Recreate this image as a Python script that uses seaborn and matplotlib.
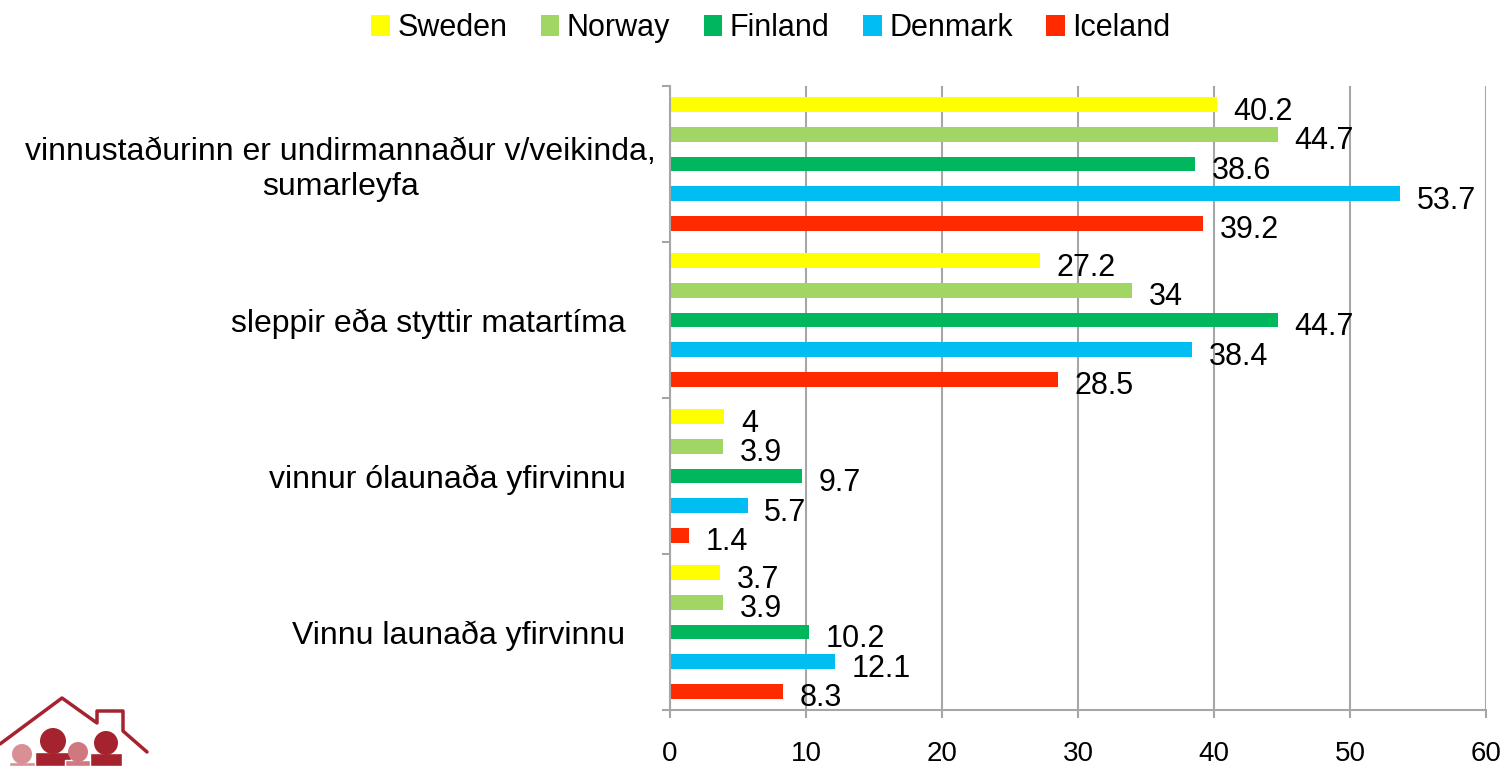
import numpy as np
import pandas as pd
import seaborn as sns
import matplotlib.pyplot as plt
from matplotlib.patches import Patch, Circle, Rectangle
from matplotlib.lines import Line2D
from matplotlib.transforms import ScaledTranslation, IdentityTransform

# data (top to bottom)
categories = [
    "vinnustaðurinn er undirmannaður v/veikinda,\nsumarleyfa",
    "sleppir eða styttir matartíma",
    "vinnur ólaunaða yfirvinnu",
    "Vinnu launaða yfirvinnu",
]
countries = ["Sweden", "Norway", "Finland", "Denmark", "Iceland"]
sweden = [40.2, 27.2, 4, 3.7]
norway = [44.7, 34, 3.9, 3.9]
finland = [38.6, 44.7, 9.7, 10.2]
denmark = [53.7, 38.4, 5.7, 12.1]
iceland = [39.2, 28.5, 1.4, 8.3]
colors = ["#FFFF00", "#A2D664", "#00B75E", "#00BEF2", "#FF2A00"]
x_ticks = [0, 10, 20, 30, 40, 50, 60]

values = [sweden, norway, finland, denmark, iceland]
rows = []
for country, vals in zip(countries, values):
    for cat, v in zip(categories, vals):
        rows.append({"category": cat, "country": country, "value": v})
df = pd.DataFrame(rows)

sns.set_style("white")
plt.rcParams["font.family"] = ["Liberation Sans", "DejaVu Sans"]
plt.rcParams["text.color"] = "black"
plt.rcParams["xtick.labelcolor"] = "black"
plt.rcParams["ytick.labelcolor"] = "black"

fig = plt.figure(figsize=(15.06, 7.66), dpi=100)
ax = fig.add_axes([670 / 1506, 1 - 710 / 766, 816 / 1506, 624 / 766])

sns.barplot(data=df, y="category", x="value", hue="country",
            order=categories, hue_order=countries, palette=colors,
            orient="h", width=0.95, gap=0.5, linewidth=0, saturation=1,
            legend=False, ax=ax)

# value labels, a bit right of and below the bar end
for container, vals in zip(ax.containers, values):
    for bar, v in zip(container, vals):
        ax.annotate(f"{v:g}", (bar.get_width(), bar.get_y() + bar.get_height() / 2),
                    xytext=(12, -5), textcoords="offset points",
                    ha="left", va="center", fontsize=22, color="black")

ax.set_xlim(0, 60)
ax.set_ylim(3.5, -0.5)
ax.set_xticks(x_ticks)
ax.set_xticklabels([str(t) for t in x_ticks], fontsize=20)
ax.set_yticks(range(len(categories)))
ax.set_yticklabels(categories, fontsize=23, multialignment="center")
ax.set_yticks([-0.5, 0.5, 1.5, 2.5, 3.5], minor=True)
ax.set_xlabel("")
ax.set_ylabel("")

ax.xaxis.grid(True, color="#a6a6a6", linewidth=1.5)
ax.set_axisbelow(True)
ax.tick_params(axis="x", which="major", direction="out", length=6, width=1.5,
               color="#a6a6a6", pad=16, bottom=True)
ax.tick_params(axis="y", which="major", length=0, pad=32)
ax.tick_params(axis="y", which="minor", direction="out", length=6, width=1.5,
               color="#a6a6a6", left=True)
for side in ["top", "right"]:
    ax.spines[side].set_visible(False)
for side in ["left", "bottom"]:
    ax.spines[side].set_color("#a6a6a6")
    ax.spines[side].set_linewidth(1.5)

# the wrapped first label sits further right in the original
first = ax.get_yticklabels()[0]
first.set_transform(first.get_transform() + ScaledTranslation(0.30, 0, fig.dpi_scale_trans))

handles = [Patch(facecolor=c, edgecolor="none", label=n) for c, n in zip(colors, countries)]
fig.legend(handles=handles, loc="center", bbox_to_anchor=(771 / 1506, 1 - 28 / 766),
           ncol=5, frameon=False, fontsize=22, handlelength=0.6, handleheight=0.7,
           handletextpad=0.25, columnspacing=1.1, borderpad=0)

# small logo at bottom left (house with people), drawn in pixel coords
H = 766
px = IdentityTransform()
dark = "#A5222F"
roof_x = [0, 62, 97, 97, 123, 123, 147]
roof_y = [744, 698, 723, 711, 711, 731, 752]
fig.add_artist(Line2D(roof_x, [H - y for y in roof_y], transform=px,
                      color=dark, linewidth=2.5))
people = [(22, 754, 10, "#D99095"), (53, 741, 13, dark), (78, 752, 10, "#CF7880"), (106, 743, 12, dark)]
for x, y, r, c in people:
    fig.add_artist(Rectangle((x - 1.35 * r, 0), 2.7 * r, H - (y + r - 2), transform=px,
                             facecolor=c, edgecolor="white", linewidth=1))
    fig.add_artist(Circle((x, H - y), r, transform=px, facecolor=c, edgecolor="none"))

fig.savefig("out.png", dpi=100)
